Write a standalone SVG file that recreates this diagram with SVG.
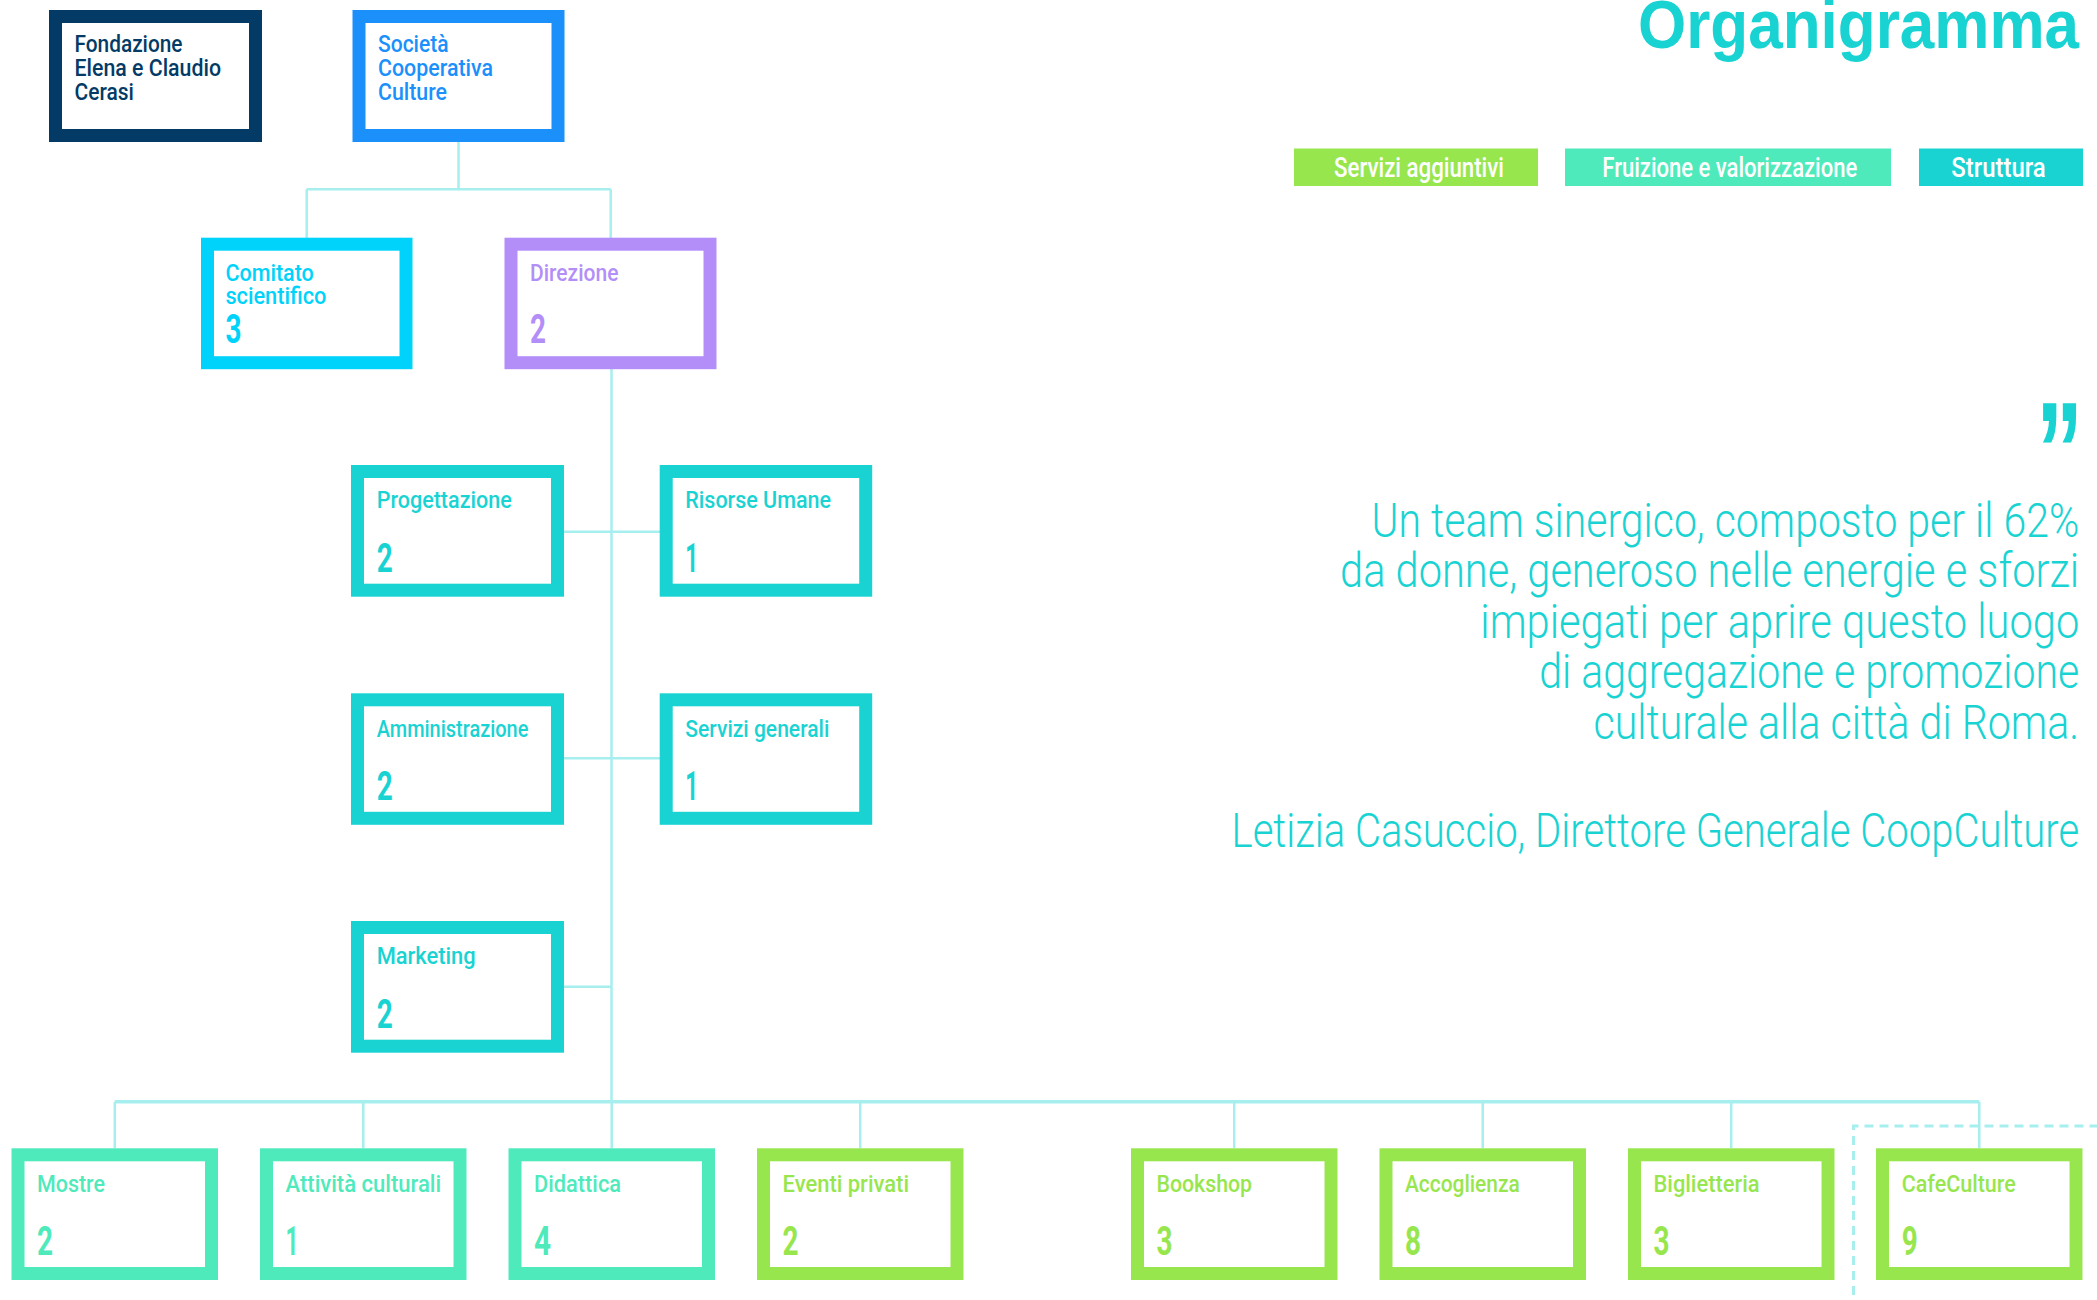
<svg xmlns="http://www.w3.org/2000/svg" width="2097" height="1300" viewBox="0 0 2097 1300">
<style>
  .box { fill: #ffffff; stroke-width: 13; }
  .lbl { font-family: Roboto, "Liberation Sans", sans-serif; font-weight: 500; font-size: 24px; }
  .num { font-family: Roboto, "Liberation Sans", sans-serif; font-weight: 700; font-size: 40px; }
  .conn { fill: none; stroke: #a7eeef; stroke-width: 2.5; }
  .bus { fill: none; stroke: #a7eeef; stroke-width: 3.5; }
  .quote { font-family: Roboto, "Liberation Sans", sans-serif; font-weight: 300; font-size: 49px; fill: #19d3d3; }
  .legtxt { font-family: Roboto, "Liberation Sans", sans-serif; font-weight: 500; font-size: 28px; fill: #ffffff; text-anchor: middle; }
  .navy { stroke: #033b66; } .navyT { fill: #033b66; }
  .blue { stroke: #1b90fb; } .blueT { fill: #1b90fb; }
  .cyan { stroke: #00d3fb; } .cyanT { fill: #00d3fb; }
  .purp { stroke: #b38ef9; } .purpT { fill: #b38ef9; }
  .str { stroke: #19d3d3; } .strT { fill: #19d3d3; }
  .fru { stroke: #4feabc; } .fruT { fill: #4feabc; }
  .ser { stroke: #98e64e; } .serT { fill: #98e64e; }
</style>
<rect x="0" y="0" width="2097" height="1300" fill="#ffffff"/>

<g id="title">
  <text x="1638" y="48" font-family="'Liberation Sans', Roboto, sans-serif" font-weight="700" font-size="68" fill="#19d3d3" textLength="441" lengthAdjust="spacingAndGlyphs">Organigramma</text>
</g>

<g id="legend">
  <rect x="1294" y="148.5" width="244" height="37.5" fill="#98e64e"/>
  <text class="legtxt" x="1419" y="176.7" textLength="170" lengthAdjust="spacingAndGlyphs">Servizi aggiuntivi</text>
  <rect x="1565" y="148.5" width="326" height="37.5" fill="#4feabc"/>
  <text class="legtxt" x="1729.8" y="176.7" textLength="255" lengthAdjust="spacingAndGlyphs">Fruizione e valorizzazione</text>
  <rect x="1919" y="148.5" width="164" height="37.5" fill="#19d3d3"/>
  <text class="legtxt" x="1998.5" y="176.7" textLength="94.5" lengthAdjust="spacingAndGlyphs">Struttura</text>
</g>

<g id="quote">
  <text x="2036" y="499" font-family="'Liberation Sans', Roboto, sans-serif" font-weight="700" font-size="140" fill="#19d3d3" textLength="47" lengthAdjust="spacingAndGlyphs">”</text>
  <text class="quote" x="1371.6" y="536.7" textLength="707.6" lengthAdjust="spacingAndGlyphs">Un team sinergico, composto per il 62%</text>
  <text class="quote" x="1340.1" y="587" textLength="739" lengthAdjust="spacingAndGlyphs">da donne, generoso nelle energie e sforzi</text>
  <text class="quote" x="1480.3" y="637.7" textLength="599" lengthAdjust="spacingAndGlyphs">impiegati per aprire questo luogo</text>
  <text class="quote" x="1539.2" y="688" textLength="540" lengthAdjust="spacingAndGlyphs">di aggregazione e promozione</text>
  <text class="quote" x="1593.5" y="739" textLength="485.7" lengthAdjust="spacingAndGlyphs">culturale alla città di Roma.</text>
  <text class="quote" x="1231.5" y="846.7" font-size="51" textLength="847.7" lengthAdjust="spacingAndGlyphs">Letizia Casuccio, Direttore Generale CoopCulture</text>
</g>

<g id="connectors">
  <path class="conn" d="M458.5,142 V189.3 M306.7,189.3 H610.7 M306.7,189.3 V238 M610.7,189.3 V238"/>
  <path class="conn" d="M611.5,369 V1101.7"/>
  <path class="conn" d="M564,531.7 H660 M564,758.3 H660 M564,986.7 H611.5"/>
  <path class="bus" d="M114.8,1101.7 H1979.3"/>
  <path class="conn" d="M114.8,1101.7 V1148.3 M363.3,1101.7 V1148.3 M611.7,1101.7 V1148.3 M860.2,1101.7 V1148.3 M1234.2,1101.7 V1148.3 M1482.7,1101.7 V1148.3 M1731.2,1101.7 V1148.3 M1979.3,1101.7 V1148.3"/>
  <path d="M1853.5,1310 V1126 H2110" fill="none" stroke="#a7eeef" stroke-width="3" stroke-dasharray="9 6"/>
</g>

<g id="fondazione">
  <rect class="box navy" x="55.5" y="16.5" width="200" height="119"/>
  <text class="lbl navyT" x="74.5" y="52.3" textLength="108" lengthAdjust="spacingAndGlyphs">Fondazione</text>
  <text class="lbl navyT" x="74.5" y="76" textLength="146.5" lengthAdjust="spacingAndGlyphs">Elena e Claudio</text>
  <text class="lbl navyT" x="74.5" y="100" textLength="59.4" lengthAdjust="spacingAndGlyphs">Cerasi</text>
</g>

<g id="societa">
  <rect class="box blue" x="359" y="16.5" width="199" height="119"/>
  <text class="lbl blueT" x="378" y="52.3" textLength="70.5" lengthAdjust="spacingAndGlyphs">Società</text>
  <text class="lbl blueT" x="378" y="76" textLength="115" lengthAdjust="spacingAndGlyphs">Cooperativa</text>
  <text class="lbl blueT" x="378" y="100" textLength="69" lengthAdjust="spacingAndGlyphs">Culture</text>
</g>

<g id="comitato">
  <rect class="box cyan" x="207.5" y="244.2" width="198.5" height="118.5"/>
  <text class="lbl cyanT" x="225.4" y="281" textLength="88.4" lengthAdjust="spacingAndGlyphs">Comitato</text>
  <text class="lbl cyanT" x="225.4" y="304.3" textLength="101" lengthAdjust="spacingAndGlyphs">scientifico</text>
  <text class="num cyanT" x="225.4" y="343.3" textLength="16" lengthAdjust="spacingAndGlyphs">3</text>
</g>

<g id="direzione">
  <rect class="box purp" x="511" y="244.2" width="199" height="118.5"/>
  <text class="lbl purpT" x="530" y="281" textLength="88.4" lengthAdjust="spacingAndGlyphs">Direzione</text>
  <text class="num purpT" x="530" y="343.3" textLength="16" lengthAdjust="spacingAndGlyphs">2</text>
</g>

<g id="progettazione">
  <rect class="box str" x="357.5" y="471.5" width="200" height="118.7"/>
  <text class="lbl strT" x="376.7" y="508.3" textLength="135" lengthAdjust="spacingAndGlyphs">Progettazione</text>
  <text class="num strT" x="376.7" y="571.7" textLength="16" lengthAdjust="spacingAndGlyphs">2</text>
</g>

<g id="risorse-umane">
  <rect class="box str" x="666.2" y="471.5" width="199.5" height="118.7"/>
  <text class="lbl strT" x="685.3" y="508.3" textLength="145.7" lengthAdjust="spacingAndGlyphs">Risorse Umane</text>
  <text class="num strT" x="685.3" y="571.7" textLength="13" lengthAdjust="spacingAndGlyphs">1</text>
</g>

<g id="amministrazione">
  <rect class="box str" x="357.5" y="699.8" width="200" height="118.5"/>
  <text class="lbl strT" x="376.7" y="736.6" textLength="151.7" lengthAdjust="spacingAndGlyphs">Amministrazione</text>
  <text class="num strT" x="376.7" y="800" textLength="16" lengthAdjust="spacingAndGlyphs">2</text>
</g>

<g id="servizi-generali">
  <rect class="box str" x="666.2" y="699.8" width="199.5" height="118.5"/>
  <text class="lbl strT" x="685.3" y="736.6" textLength="144" lengthAdjust="spacingAndGlyphs">Servizi generali</text>
  <text class="num strT" x="685.3" y="800" textLength="13" lengthAdjust="spacingAndGlyphs">1</text>
</g>

<g id="marketing">
  <rect class="box str" x="357.5" y="927.5" width="200" height="118.7"/>
  <text class="lbl strT" x="376.7" y="964.3" textLength="99" lengthAdjust="spacingAndGlyphs">Marketing</text>
  <text class="num strT" x="376.7" y="1027.7" textLength="16" lengthAdjust="spacingAndGlyphs">2</text>
</g>

<g id="mostre">
  <rect class="box fru" x="18" y="1154.8" width="193.5" height="118.7"/>
  <text class="lbl fruT" x="37" y="1191.7" textLength="68" lengthAdjust="spacingAndGlyphs">Mostre</text>
  <text class="num fruT" x="37" y="1255" textLength="16" lengthAdjust="spacingAndGlyphs">2</text>
</g>

<g id="attivita-culturali">
  <rect class="box fru" x="266.5" y="1154.8" width="193.5" height="118.7"/>
  <text class="lbl fruT" x="285.5" y="1191.7" textLength="155.6" lengthAdjust="spacingAndGlyphs">Attività culturali</text>
  <text class="num fruT" x="285.5" y="1255" textLength="13" lengthAdjust="spacingAndGlyphs">1</text>
</g>

<g id="didattica">
  <rect class="box fru" x="515" y="1154.8" width="193.5" height="118.7"/>
  <text class="lbl fruT" x="534" y="1191.7" textLength="87" lengthAdjust="spacingAndGlyphs">Didattica</text>
  <text class="num fruT" x="534" y="1255" textLength="17" lengthAdjust="spacingAndGlyphs">4</text>
</g>

<g id="eventi-privati">
  <rect class="box ser" x="763.5" y="1154.8" width="193.5" height="118.7"/>
  <text class="lbl serT" x="782.5" y="1191.7" textLength="126.5" lengthAdjust="spacingAndGlyphs">Eventi privati</text>
  <text class="num serT" x="782.5" y="1255" textLength="16" lengthAdjust="spacingAndGlyphs">2</text>
</g>

<g id="bookshop">
  <rect class="box ser" x="1137.5" y="1154.8" width="193.5" height="118.7"/>
  <text class="lbl serT" x="1156.5" y="1191.7" textLength="95.5" lengthAdjust="spacingAndGlyphs">Bookshop</text>
  <text class="num serT" x="1156.5" y="1255" textLength="16" lengthAdjust="spacingAndGlyphs">3</text>
</g>

<g id="accoglienza">
  <rect class="box ser" x="1386" y="1154.8" width="193.5" height="118.7"/>
  <text class="lbl serT" x="1405" y="1191.7" textLength="114.7" lengthAdjust="spacingAndGlyphs">Accoglienza</text>
  <text class="num serT" x="1405" y="1255" textLength="16" lengthAdjust="spacingAndGlyphs">8</text>
</g>

<g id="biglietteria">
  <rect class="box ser" x="1634.5" y="1154.8" width="193.5" height="118.7"/>
  <text class="lbl serT" x="1653.5" y="1191.7" textLength="106" lengthAdjust="spacingAndGlyphs">Biglietteria</text>
  <text class="num serT" x="1653.5" y="1255" textLength="16" lengthAdjust="spacingAndGlyphs">3</text>
</g>

<g id="cafeculture">
  <rect class="box ser" x="1882.5" y="1154.8" width="193.5" height="118.7"/>
  <text class="lbl serT" x="1901.7" y="1191.7" textLength="114" lengthAdjust="spacingAndGlyphs">CafeCulture</text>
  <text class="num serT" x="1901.7" y="1255" textLength="16" lengthAdjust="spacingAndGlyphs">9</text>
</g>
</svg>
